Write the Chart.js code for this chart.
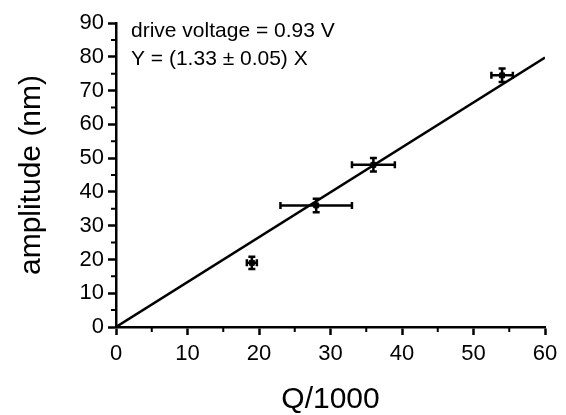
<!DOCTYPE html>
<html>
<head>
<meta charset="utf-8">
<script src="https://cdn.jsdelivr.net/npm/chart.js@4"></script>
<style>
  html, body { margin: 0; padding: 0; background: #fff; }
  #wrap { width: 566px; height: 415px; }
</style>
</head>
<body>
<div id="wrap"><canvas id="chart" width="566" height="415"></canvas></div>
<script>
// measured points (Q/1000 vs amplitude)
const qValues = [19, 28, 36, 54];
const ampValues = [19, 36, 48, 74.5];
const qErrors = [0.7, 5, 3, 1.5];
const ampErrors = [1.8, 2, 2, 2];

// fitted line Y = 1.33 X
const fitX = [0, 60];
const fitY = [0, 79.8];

const xTicks = [0, 10, 20, 30, 40, 50, 60];
const yTicks = [0, 10, 20, 30, 40, 50, 60, 70, 80, 90];
const xMinorTicks = [5, 15, 25, 35, 45, 55];
const yMinorTicks = [5, 15, 25, 35, 45, 55, 65, 75, 85];

const annotations = ['drive voltage = 0.93 V', 'Y = (1.33 \u00b1 0.05) X'];

const FONT = "'Liberation Sans', Arial, sans-serif";

// Error bars and minor ticks, drawn with the chart's own scales
const extrasPlugin = {
    id: 'extras',
    beforeDatasetsDraw(chart) {
        const ctx = chart.ctx;
        const xs = chart.scales.x, ys = chart.scales.y;
        ctx.save();
        ctx.strokeStyle = '#000';
        ctx.lineWidth = 2.5;
        qValues.forEach((q, i) => {
            const a = ampValues[i];
            const px = xs.getPixelForValue(q), py = ys.getPixelForValue(a);
            const xl = xs.getPixelForValue(q - qErrors[i]);
            const xr = xs.getPixelForValue(q + qErrors[i]);
            const yt = ys.getPixelForValue(a + ampErrors[i]);
            const yb = ys.getPixelForValue(a - ampErrors[i]);
            ctx.beginPath();
            ctx.moveTo(xl, py); ctx.lineTo(xr, py);
            ctx.moveTo(xl, py - 3.5); ctx.lineTo(xl, py + 3.5);
            ctx.moveTo(xr, py - 3.5); ctx.lineTo(xr, py + 3.5);
            ctx.moveTo(px, yt); ctx.lineTo(px, yb);
            ctx.moveTo(px - 3.5, yt); ctx.lineTo(px + 3.5, yt);
            ctx.moveTo(px - 3.5, yb); ctx.lineTo(px + 3.5, yb);
            ctx.stroke();
        });
        ctx.restore();
    },
    afterDraw(chart) {
        const ctx = chart.ctx;
        const xs = chart.scales.x, ys = chart.scales.y;
        const area = chart.chartArea;
        ctx.save();
        ctx.strokeStyle = '#000';
        ctx.lineWidth = 2;
        ctx.beginPath();
        xMinorTicks.forEach(v => {
            const px = xs.getPixelForValue(v);
            ctx.moveTo(px, area.bottom); ctx.lineTo(px, area.bottom + 5);
        });
        yMinorTicks.forEach(v => {
            const py = ys.getPixelForValue(v);
            ctx.moveTo(area.left, py); ctx.lineTo(area.left - 5, py);
        });
        ctx.stroke();

        // text in the upper left of the plot
        ctx.fillStyle = '#000';
        ctx.font = '21px ' + FONT;
        ctx.textBaseline = 'alphabetic';
        ctx.textAlign = 'left';
        annotations.forEach((t, i) => {
            ctx.fillText(t, area.left + 15, 37 + i * 28);
        });
        ctx.restore();
    }
};

new Chart(document.getElementById('chart'), {
    type: 'scatter',
    data: {
        datasets: [{
            label: 'data',
            data: qValues.map((q, i) => ({ x: q, y: ampValues[i] })),
            pointStyle: 'rect',
            pointRadius: 3.5,
            backgroundColor: '#000',
            borderColor: '#000',
            borderWidth: 1
        }, {
            label: 'fit',
            data: fitX.map((x, i) => ({ x: x, y: fitY[i] })),
            showLine: true,
            pointRadius: 0,
            borderColor: '#000',
            borderWidth: 2.5
        }]
    },
    options: {
        responsive: false,
        animation: false,
        layout: { padding: { left: 0, right: 21, top: 23, bottom: 0 } },
        plugins: {
            legend: { display: false },
            tooltip: { enabled: false }
        },
        scales: {
            x: {
                type: 'linear',
                min: 0,
                max: 60,
                afterBuildTicks: (s) => { s.ticks = xTicks.map(v => ({ value: v })); },
                afterFit: (s) => { s.height = 88; },
                border: { display: true, color: '#000', width: 2.5 },
                grid: { drawOnChartArea: false, tickLength: 8, tickColor: '#000', tickWidth: 2.5 },
                ticks: { color: '#000', padding: 6, font: { family: FONT, size: 22 } },
                title: {
                    display: true,
                    text: 'Q/1000',
                    color: '#000',
                    font: { family: FONT, size: 30, lineHeight: 1 },
                    padding: { top: 0, bottom: 0 }
                }
            },
            y: {
                type: 'linear',
                min: 0,
                max: 90,
                afterBuildTicks: (s) => { s.ticks = yTicks.map(v => ({ value: v })); },
                afterFit: (s) => { s.width = 116; },
                border: { display: true, color: '#000', width: 2.5 },
                grid: { drawOnChartArea: false, tickLength: 8, tickColor: '#000', tickWidth: 2.5 },
                ticks: { color: '#000', padding: 4, font: { family: FONT, size: 22 } },
                title: {
                    display: true,
                    text: 'amplitude (nm)',
                    color: '#000',
                    font: { family: FONT, size: 30, lineHeight: 1 },
                    padding: { top: 17, bottom: 0 }
                }
            }
        }
    },
    plugins: [extrasPlugin]
});
</script>
</body>
</html>
